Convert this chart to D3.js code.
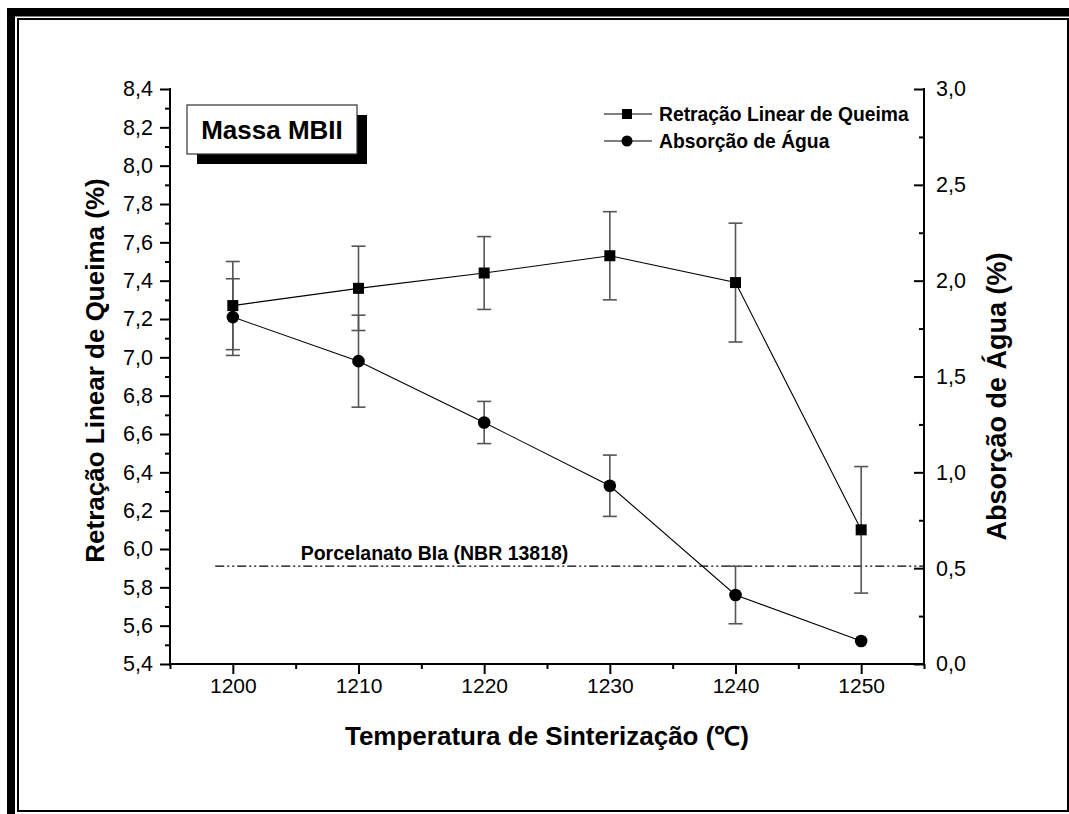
<!DOCTYPE html>
<html>
<head>
<meta charset="utf-8">
<script src="https://cdn.jsdelivr.net/npm/d3@7"></script>
<style>
  html, body { margin: 0; padding: 0; background: #fff; }
  svg { display: block; }
  text { font-family: "Liberation Sans", Arial, Helvetica, sans-serif; fill: #000; }
</style>
</head>
<body>
<svg id="chart" width="1069" height="814"></svg>
<script>
// ---------------- data ----------------
const temperatures = [1200, 1210, 1220, 1230, 1240, 1250];
const retracao     = [7.27, 7.36, 7.44, 7.53, 7.39, 6.10];
const retracaoErr  = [0.23, 0.22, 0.19, 0.23, 0.31, 0.33];
const absorcao     = [1.81, 1.58, 1.26, 0.93, 0.36, 0.12];
const absorcaoErr  = [0.20, 0.24, 0.11, 0.16, 0.15, 0.00];

const xTickValues     = [1200, 1210, 1220, 1230, 1240, 1250];
const xMinorTicks     = [1195, 1205, 1215, 1225, 1235, 1245, 1255];
const leftTickValues  = [5.4, 5.6, 5.8, 6.0, 6.2, 6.4, 6.6, 6.8, 7.0, 7.2, 7.4, 7.6, 7.8, 8.0, 8.2, 8.4];
const leftMinorTicks  = [5.5, 5.7, 5.9, 6.1, 6.3, 6.5, 6.7, 6.9, 7.1, 7.3, 7.5, 7.7, 7.9, 8.1, 8.3];
const rightTickValues = [0.0, 0.5, 1.0, 1.5, 2.0, 2.5, 3.0];
const rightMinorTicks = [0.25, 0.75, 1.25, 1.75, 2.25, 2.75];

const refLineValue = 0.5;          // Porcelanato BIa limit (right axis)
const refLineFrom  = 1198.6;       // where the dash-dot line starts (x data)
const refLineTo    = 1255;
const refLabel     = "Porcelanato BIa (NBR 13818)";
const refLabelAt   = 1205.4;

const seriesNames = ["Retração Linear de Queima", "Absorção de Água"];
const xTitle = "Temperatura de Sinterização (\u2103)";
const yLeftTitle = "Retração Linear de Queima (%)";
const yRightTitle = "Absorção de Água (%)";
const boxLabel = "Massa MBII";

// ---------------- layout ----------------
const svg = d3.select("#chart");
const plot = { left: 170, right: 924, top: 89, bottom: 664 };

const x  = d3.scaleLinear().domain([1195, 1255]).range([plot.left, plot.right]);
const yL = d3.scaleLinear().domain([5.4, 8.4]).range([plot.bottom, plot.top]);
const yR = d3.scaleLinear().domain([0, 3.0]).range([plot.bottom, plot.top]);
const comma = v => d3.format(".1f")(v).replace(".", ",");

// ---------------- frame ----------------
svg.append("rect").attr("x", 0).attr("y", 0).attr("width", 1069).attr("height", 814).attr("fill", "#fff");
svg.append("rect").attr("x", 7).attr("y", 8).attr("width", 1062).attr("height", 8.5).attr("fill", "#000");
svg.append("rect").attr("x", 7).attr("y", 8).attr("width", 8).attr("height", 806).attr("fill", "#000");
svg.append("rect").attr("x", 18).attr("y", 19).attr("width", 1050).attr("height", 792)
  .attr("fill", "none").attr("stroke", "#000").attr("stroke-width", 2);

// ---------------- axes ----------------
function styleAxis(g, size) {
  g.select(".domain").remove();
  g.selectAll(".tick line").attr("stroke", "#000").attr("stroke-width", 2);
  g.selectAll(".tick text").style("font-size", size + "px").attr("fill", "#000");
}

// bottom
const gx = svg.append("g").attr("transform", `translate(0,${plot.bottom})`)
  .call(d3.axisBottom(x).tickValues(xTickValues).tickSize(10).tickPadding(4).tickFormat(d3.format("d")));
styleAxis(gx, 21);
svg.append("g").attr("transform", `translate(0,${plot.bottom})`)
  .call(d3.axisBottom(x).tickValues(xMinorTicks).tickSize(5).tickFormat(""))
  .call(g => { g.select(".domain").remove(); g.selectAll("line").attr("stroke", "#000").attr("stroke-width", 2); });

// left
const gl = svg.append("g").attr("transform", `translate(${plot.left},0)`)
  .call(d3.axisLeft(yL).tickValues(leftTickValues).tickSize(10).tickPadding(7).tickFormat(comma));
styleAxis(gl, 21.5);
svg.append("g").attr("transform", `translate(${plot.left},0)`)
  .call(d3.axisLeft(yL).tickValues(leftMinorTicks).tickSize(5).tickFormat(""))
  .call(g => { g.select(".domain").remove(); g.selectAll("line").attr("stroke", "#000").attr("stroke-width", 2); });

// right (ticks inward, labels outside)
const gr = svg.append("g").attr("transform", `translate(${plot.right},0)`)
  .call(d3.axisRight(yR).tickValues(rightTickValues).tickSize(-10).tickPadding(12).tickFormat(comma));
styleAxis(gr, 21.5);
svg.append("g").attr("transform", `translate(${plot.right},0)`)
  .call(d3.axisRight(yR).tickValues(rightMinorTicks).tickSize(-5).tickFormat(""))
  .call(g => { g.select(".domain").remove(); g.selectAll("line").attr("stroke", "#000").attr("stroke-width", 2); });

// axis lines
svg.append("line").attr("x1", plot.left).attr("x2", plot.right).attr("y1", plot.bottom).attr("y2", plot.bottom)
  .attr("stroke", "#000").attr("stroke-width", 2);
svg.append("line").attr("x1", plot.left).attr("x2", plot.left).attr("y1", plot.top - 1).attr("y2", plot.bottom + 2)
  .attr("stroke", "#000").attr("stroke-width", 2);
svg.append("line").attr("x1", plot.right).attr("x2", plot.right).attr("y1", plot.top - 1).attr("y2", plot.bottom + 1)
  .attr("stroke", "#000").attr("stroke-width", 2);

// titles
svg.append("text").attr("x", (plot.left + plot.right) / 2).attr("y", 745)
  .attr("text-anchor", "middle").style("font-size", "26px").style("font-weight", "bold").text(xTitle);
svg.append("text").attr("transform", `translate(104,${(plot.top + plot.bottom) / 2 - 6}) rotate(-90)`)
  .attr("text-anchor", "middle").style("font-size", "26px").style("font-weight", "bold").text(yLeftTitle);
svg.append("text").attr("transform", `translate(1006,${(plot.top + plot.bottom) / 2 + 20}) rotate(-90)`)
  .attr("text-anchor", "middle").style("font-size", "27px").style("font-weight", "bold").text(yRightTitle);

// ---------------- reference line ----------------
svg.append("line")
  .attr("x1", x(refLineFrom)).attr("x2", x(refLineTo))
  .attr("y1", yR(refLineValue) - 2).attr("y2", yR(refLineValue) - 2)
  .attr("stroke", "#000").attr("stroke-width", 1.3).attr("stroke-dasharray", "9,3,2,3,2,3");
svg.append("text").attr("x", x(refLabelAt)).attr("y", yR(refLineValue) - 8)
  .style("font-size", "19.5px").style("font-weight", "bold").text(refLabel);

// ---------------- series ----------------
const ret = temperatures.map((t, i) => ({ t, v: retracao[i], e: retracaoErr[i] }));
const abs = temperatures.map((t, i) => ({ t, v: absorcao[i], e: absorcaoErr[i] }));

function drawErr(data, y) {
  const g = svg.append("g").attr("stroke", "#555").attr("stroke-width", 1.6);
  data.filter(d => d.e > 0).forEach(d => {
    const cx = x(d.t), y1 = y(d.v + d.e), y2 = y(d.v - d.e);
    g.append("line").attr("x1", cx).attr("x2", cx).attr("y1", y1).attr("y2", y2);
    g.append("line").attr("x1", cx - 7).attr("x2", cx + 7).attr("y1", y1).attr("y2", y1);
    g.append("line").attr("x1", cx - 7).attr("x2", cx + 7).attr("y1", y2).attr("y2", y2);
  });
}
drawErr(ret, yL);
drawErr(abs, yR);

svg.append("path").datum(ret).attr("fill", "none").attr("stroke", "#000").attr("stroke-width", 1.1)
  .attr("d", d3.line().x(d => x(d.t)).y(d => yL(d.v)));
svg.append("path").datum(abs).attr("fill", "none").attr("stroke", "#000").attr("stroke-width", 1.1)
  .attr("d", d3.line().x(d => x(d.t)).y(d => yR(d.v)));

svg.append("g").selectAll("rect").data(ret).join("rect")
  .attr("x", d => x(d.t) - 5.5).attr("y", d => yL(d.v) - 5.5).attr("width", 11).attr("height", 11).attr("fill", "#000");
svg.append("g").selectAll("circle").data(abs).join("circle")
  .attr("cx", d => x(d.t)).attr("cy", d => yR(d.v)).attr("r", 6.3).attr("fill", "#000");

// ---------------- label box ----------------
svg.append("rect").attr("x", 197).attr("y", 115).attr("width", 170).attr("height", 49).attr("fill", "#000");
svg.append("rect").attr("x", 187).attr("y", 105).attr("width", 170).attr("height", 49)
  .attr("fill", "#fff").attr("stroke", "#333").attr("stroke-width", 1.2);
svg.append("text").attr("x", 272).attr("y", 139).attr("text-anchor", "middle")
  .style("font-size", "26px").style("font-weight", "bold").text(boxLabel);

// ---------------- legend ----------------
const legendRows = [
  { name: seriesNames[0], shape: "square", y: 114 },
  { name: seriesNames[1], shape: "circle", y: 141 }
];
const lg = svg.append("g");
legendRows.forEach(r => {
  lg.append("line").attr("x1", 604).attr("x2", 652).attr("y1", r.y).attr("y2", r.y)
    .attr("stroke", "#000").attr("stroke-width", 1.1);
  if (r.shape === "square") {
    lg.append("rect").attr("x", 622).attr("y", r.y - 5).attr("width", 10).attr("height", 10).attr("fill", "#000");
  } else {
    lg.append("circle").attr("cx", 627).attr("cy", r.y).attr("r", 5.5).attr("fill", "#000");
  }
  lg.append("text").attr("x", 659).attr("y", r.y).attr("dy", "0.36em")
    .style("font-size", "19.3px").style("font-weight", "bold").text(r.name);
});
</script>
</body>
</html>
